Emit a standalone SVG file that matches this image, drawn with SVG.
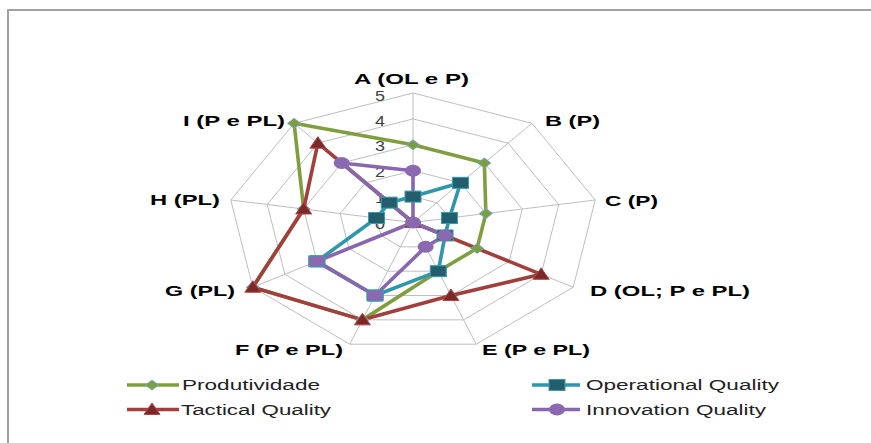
<svg xmlns="http://www.w3.org/2000/svg" width="871" height="443" viewBox="0 0 871 443">
<style>
.grid{fill:none;stroke:#BEBEBE;stroke-width:1}
.ax{font-family:"Liberation Sans",Arial,sans-serif;font-weight:bold;font-size:15px;fill:#000}
.tick{font-family:"Liberation Sans",Arial,sans-serif;font-size:14px;fill:#404040;text-anchor:middle}
.leg{font-family:"Liberation Sans",Arial,sans-serif;font-size:14px;fill:#222}
.s1{fill:none;stroke:#7F9F3F;stroke-width:3.6;stroke-linejoin:round}
.s2{fill:none;stroke:#2F97AB;stroke-width:3.6;stroke-linejoin:round}
.s3{fill:none;stroke:#A23E3B;stroke-width:3.6;stroke-linejoin:round}
.s4{fill:none;stroke:#8867AE;stroke-width:3.6;stroke-linejoin:round}
</style>
<defs>
<path id="dia" d="M-6.5,0 L0,-5 L6.5,0 L0,5 Z" fill="#7E9E3E" stroke="#6FA9C9" stroke-width="1"/>
<rect id="sq" x="-8" y="-5.5" width="16" height="11" fill="#235E6D" stroke="#3A9BB0" stroke-width="1"/>
<path id="tri" d="M0,-6.5 L8,5 L-8,5 Z" fill="#7A2828" stroke="#B04545" stroke-width="1"/>
<ellipse id="cir" rx="8" ry="6" fill="#8A69B1"/>
<rect id="psq" x="-8" y="-5.5" width="16" height="11" rx="2" fill="#8A69B1" stroke="#3A9BB0" stroke-width="1"/>
</defs>
<rect x="8" y="10" width="880" height="450" fill="#fff" stroke="#A0A0A0" stroke-width="2"/>
<g id="grid">
<polygon class="grid" points="413,196.6 436.78,202.66 449.44,218 445.04,235.45 425.65,246.84 400.35,246.84 380.96,235.45 376.56,218 389.22,202.66"/>
<polygon class="grid" points="413,170.7 460.56,182.82 485.88,213.5 477.08,248.4 438.3,271.18 387.7,271.18 348.92,248.4 340.12,213.5 365.44,182.82"/>
<polygon class="grid" points="413,144.8 484.34,162.98 522.32,209 509.12,261.35 450.95,295.52 375.05,295.52 316.88,261.35 303.68,209 341.66,162.98"/>
<polygon class="grid" points="413,118.9 508.12,143.14 558.76,204.5 541.16,274.3 463.6,319.86 362.4,319.86 284.84,274.3 267.24,204.5 317.88,143.14"/>
<polygon class="grid" points="413,93 531.9,123.3 595.2,200 573.2,287.25 476.25,344.2 349.75,344.2 252.8,287.25 230.8,200 294.1,123.3"/>
<path class="grid" d="M413,222.5 L413,93 M413,222.5 L531.9,123.3 M413,222.5 L595.2,200 M413,222.5 L573.2,287.25 M413,222.5 L476.25,344.2 M413,222.5 L349.75,344.2 M413,222.5 L252.8,287.25 M413,222.5 L230.8,200 M413,222.5 L294.1,123.3"/>
</g>
<g id="ticks">
<text class="tick" x="380" y="100.5" textLength="10" lengthAdjust="spacingAndGlyphs">5</text>
<text class="tick" x="380" y="126" textLength="10" lengthAdjust="spacingAndGlyphs">4</text>
<text class="tick" x="380" y="151" textLength="10" lengthAdjust="spacingAndGlyphs">3</text>
<text class="tick" x="380" y="177" textLength="10" lengthAdjust="spacingAndGlyphs">2</text>
<text class="tick" x="380" y="203" textLength="10" lengthAdjust="spacingAndGlyphs">1</text>
<text class="tick" x="380" y="229" textLength="10" lengthAdjust="spacingAndGlyphs">0</text>
</g>
<g id="axis-labels">
<text id="lab-A" class="ax" x="354" y="84" textLength="115" lengthAdjust="spacingAndGlyphs">A (OL e P)</text>
<text id="lab-B" class="ax" x="545" y="126" textLength="55" lengthAdjust="spacingAndGlyphs">B (P)</text>
<text id="lab-C" class="ax" x="605" y="205.5" textLength="53" lengthAdjust="spacingAndGlyphs">C (P)</text>
<text id="lab-D" class="ax" x="590" y="295.5" textLength="160" lengthAdjust="spacingAndGlyphs">D (OL; P e PL)</text>
<text id="lab-E" class="ax" x="482" y="354.5" textLength="108" lengthAdjust="spacingAndGlyphs">E (P e PL)</text>
<text id="lab-F" class="ax" x="235" y="354.5" textLength="108" lengthAdjust="spacingAndGlyphs">F (P e PL)</text>
<text id="lab-G" class="ax" x="165" y="295.5" textLength="70" lengthAdjust="spacingAndGlyphs">G (PL)</text>
<text id="lab-H" class="ax" x="150" y="205" textLength="70" lengthAdjust="spacingAndGlyphs">H (PL)</text>
<text id="lab-I" class="ax" x="183" y="126" textLength="102" lengthAdjust="spacingAndGlyphs">I (P e PL)</text>
</g>
<g id="connectors">
<polygon id="line-prod" class="s1" points="413,144.8 484.34,162.98 485.88,213.5 477.08,248.4 438.3,271.18 362.4,319.86 252.8,287.25 303.68,209 294.1,123.3"/>
<polygon id="line-op" class="s2" points="413,196.6 460.56,182.82 449.44,218 445.04,235.45 438.3,271.18 375.05,295.52 316.88,261.35 376.56,218 389.22,202.66"/>
<polygon id="line-tac" class="s3" points="413,222.5 413,222.5 413,222.5 541.16,274.3 450.95,295.52 362.4,319.86 252.8,287.25 303.68,209 317.88,143.14"/>
<polygon id="line-inn" class="s4" points="413,170.7 413,222.5 413,222.5 445.04,235.45 425.65,246.84 375.05,295.52 316.88,261.35 413,222.5 341.66,162.98"/>
</g>
<g id="series-produtividade">
<use href="#dia" x="413" y="144.8"/><use href="#dia" x="484.34" y="162.98"/><use href="#dia" x="485.88" y="213.5"/>
<use href="#dia" x="477.08" y="248.4"/><use href="#dia" x="438.3" y="271.18"/><use href="#dia" x="362.4" y="319.86"/>
<use href="#dia" x="252.8" y="287.25"/><use href="#dia" x="303.68" y="209"/><use href="#dia" x="294.1" y="123.3"/>
</g>
<g id="series-operational">
<use href="#sq" x="413" y="196.6"/><use href="#sq" x="460.56" y="182.82"/><use href="#sq" x="449.44" y="218"/>
<use href="#sq" x="445.04" y="235.45"/><use href="#sq" x="438.3" y="271.18"/><use href="#sq" x="375.05" y="295.52"/>
<use href="#sq" x="316.88" y="261.35"/><use href="#sq" x="376.56" y="218"/><use href="#sq" x="389.22" y="202.66"/>
</g>
<g id="series-tactical">
<use href="#tri" x="413" y="222.5"/>
<use href="#tri" x="541.16" y="274.3"/><use href="#tri" x="450.95" y="295.52"/><use href="#tri" x="362.4" y="319.86"/>
<use href="#tri" x="252.8" y="287.25"/><use href="#tri" x="303.68" y="209"/><use href="#tri" x="317.88" y="143.14"/>
</g>
<g id="series-innovation">
<use href="#cir" x="413" y="170.7"/><use href="#cir" x="413" y="222.5"/>
<use href="#cir" x="445.04" y="235.45"/><use href="#cir" x="425.65" y="246.84"/><use href="#psq" x="375.05" y="295.52"/>
<use href="#psq" x="316.88" y="261.35"/><use href="#cir" x="341.66" y="162.98"/>
</g>
<g id="legend">
<line class="s1" x1="127" y1="385" x2="179" y2="385"/><use href="#dia" x="152" y="385"/>
<text class="leg" x="182" y="390" textLength="138" lengthAdjust="spacingAndGlyphs">Produtividade</text>
<line class="s2" x1="532" y1="385" x2="580" y2="385"/><use href="#sq" x="557" y="385"/>
<text class="leg" x="586" y="390" textLength="193" lengthAdjust="spacingAndGlyphs">Operational Quality</text>
<line class="s3" x1="127" y1="409.5" x2="179" y2="409.5"/><use href="#tri" x="152" y="409.5"/>
<text class="leg" x="181" y="414.5" textLength="150" lengthAdjust="spacingAndGlyphs">Tactical Quality</text>
<line class="s4" x1="532" y1="409.5" x2="580" y2="409.5"/><use href="#cir" x="557" y="409.5"/>
<text class="leg" x="586" y="414.5" textLength="180" lengthAdjust="spacingAndGlyphs">Innovation Quality</text>
</g>
</svg>
